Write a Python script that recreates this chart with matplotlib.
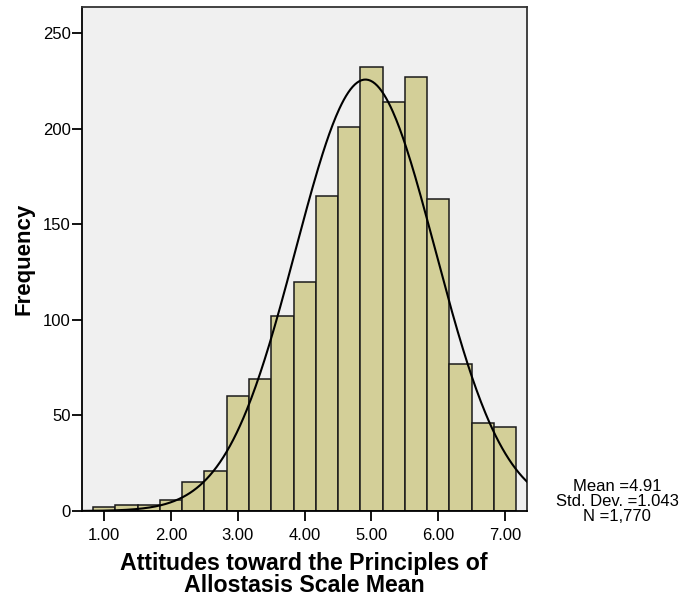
import matplotlib
matplotlib.use('Agg')

import matplotlib.pyplot as plt
import numpy as np

plt.rcParams['font.family'] = ['Liberation Sans', 'DejaVu Sans']

# histogram bins (width 1/3) and counts
bin_edges = [0.8333 + i / 3 for i in range(20)]
counts = [2, 3, 3, 6, 15, 21, 60, 69, 102, 120, 165, 201, 232, 214, 227, 163, 77, 46, 44]

mean_val = 4.91
std_val = 1.043
n_total = 1770

fig = plt.figure(figsize=(6.94, 5.96), dpi=100)
ax = fig.add_axes([0.1177, 0.1426, 0.6413, 0.8456])
ax.set_facecolor('#f0f0f0')

lefts = bin_edges[:-1]
widths = np.diff(bin_edges)
ax.bar(lefts, counts, width=widths, align='edge', color='#d3cf98',
       edgecolor='#1a1a1a', linewidth=1.1, zorder=2)

# normal curve scaled to the histogram
xs = np.linspace(0.662, 7.325, 400)
bw = 1 / 3
ys = n_total * bw / (std_val * np.sqrt(2 * np.pi)) * np.exp(-0.5 * ((xs - mean_val) / std_val) ** 2)
ax.plot(xs, ys, color='black', linewidth=1.5, zorder=3)

ax.set_xlim(0.662, 7.325)
ax.set_ylim(0, 263.6)
ax.set_xticks([1, 2, 3, 4, 5, 6, 7])
ax.set_xticklabels(['1.00', '2.00', '3.00', '4.00', '5.00', '6.00', '7.00'])
ax.set_yticks([0, 50, 100, 150, 200, 250])
ax.tick_params(axis='both', direction='out', length=7, width=1.3, labelsize=12, colors='black')
ax.tick_params(axis='x', pad=5)
ax.tick_params(axis='y', pad=1)
for side in ['left', 'bottom', 'top', 'right']:
    ax.spines[side].set_linewidth(1.3)
ax.spines['top'].set_color('#333333')
ax.spines['right'].set_color('#333333')

ax.set_ylabel('Frequency', fontsize=16, fontweight='bold', labelpad=6)
ax.set_xlabel('Attitudes toward the Principles of\nAllostasis Scale Mean', fontsize=16.7,
              fontweight='bold', labelpad=7, linespacing=0.92)

fig.text(0.889, 0.158, 'Mean =4.91\nStd. Dev. =1.043\nN =1,770', ha='center', va='center',
         fontsize=12, linespacing=1.0)

plt.savefig('out.png', dpi=100)
